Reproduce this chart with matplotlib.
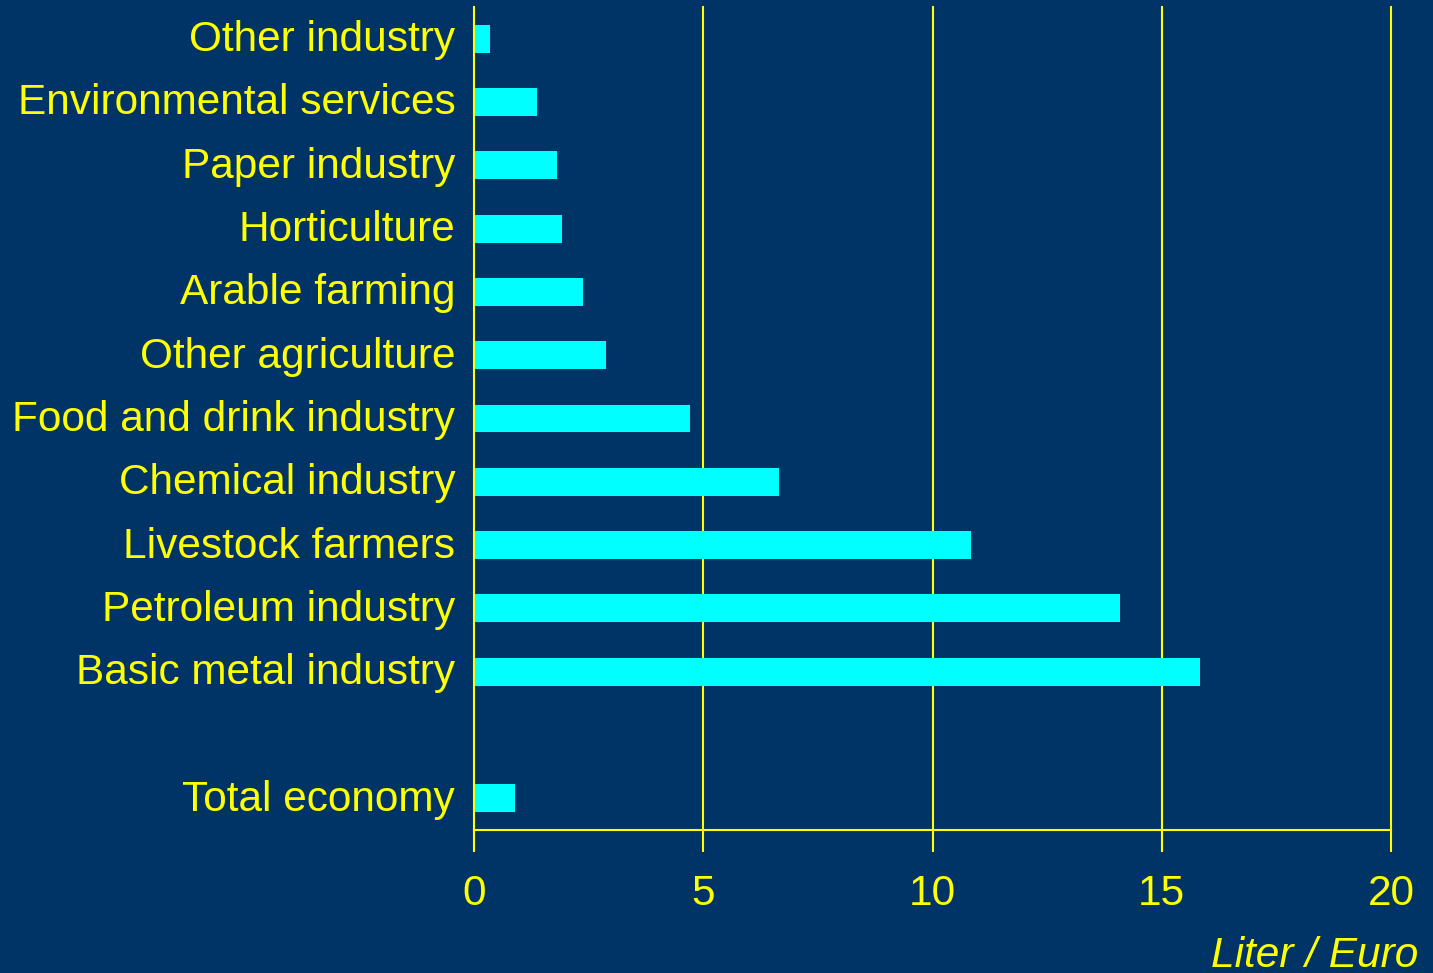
import matplotlib
matplotlib.use("Agg")
import matplotlib.pyplot as plt
from matplotlib.transforms import ScaledTranslation

categories = ["Total economy", "Basic metal industry", "Petroleum industry", "Livestock farmers",
              "Chemical industry", "Food and drink industry", "Other agriculture", "Arable farming",
              "Horticulture", "Paper industry", "Environmental services", "Other industry"]
values = [0.89, 15.83, 14.09, 10.84, 6.65, 4.71, 2.88, 2.38, 1.92, 1.81, 1.37, 0.35]
positions = [0, 2, 3, 4, 5, 6, 7, 8, 9, 10, 11, 12]
xticks = [0, 5, 10, 15, 20]

bg = "#003366"
yellow = "#FFFF00"
cyan = "#00FFFF"

plt.rcParams['font.family'] = ['Liberation Sans', 'DejaVu Sans']

fig = plt.figure(figsize=(14.33, 9.73), dpi=100, facecolor=bg)
ax = fig.add_axes([474/1433, 1-830/973, (1391-474)/1433, (830-7)/973])
ax.set_facecolor(bg)

for x in xticks[1:]:
    ax.axvline(x, color=yellow, lw=1.5, zorder=1, clip_on=False)

ax.barh(positions, values, height=0.44, color=cyan, zorder=2)

ax.set_xlim(0, 20)
ax.set_ylim(-0.5, 12.5)
ax.set_xticks(xticks)
ax.set_xticklabels([str(t) for t in xticks])
ax.set_yticks(positions)
ax.set_yticklabels(categories)

for s in ["top", "right"]:
    ax.spines[s].set_visible(False)
for s in ["left", "bottom"]:
    ax.spines[s].set_color(yellow)
    ax.spines[s].set_linewidth(1.5)

ax.tick_params(axis="x", colors=yellow, length=16, width=1.5, labelsize=30.5, pad=16)
ax.tick_params(axis="y", colors=yellow, length=0, labelsize=30.5, pad=13.5)
shift = ScaledTranslation(0, 3/100, fig.dpi_scale_trans)
for lbl in ax.get_yticklabels():
    lbl.set_color(yellow)
    lbl.set_transform(lbl.get_transform() + shift)
for lbl in ax.get_xticklabels():
    lbl.set_color(yellow)

fig.text(1418/1433, 1-967/973, "Liter / Euro", color=yellow, fontsize=30.5, style="italic",
         ha="right", va="baseline")

fig.savefig("out.png", dpi=100, facecolor=bg)
